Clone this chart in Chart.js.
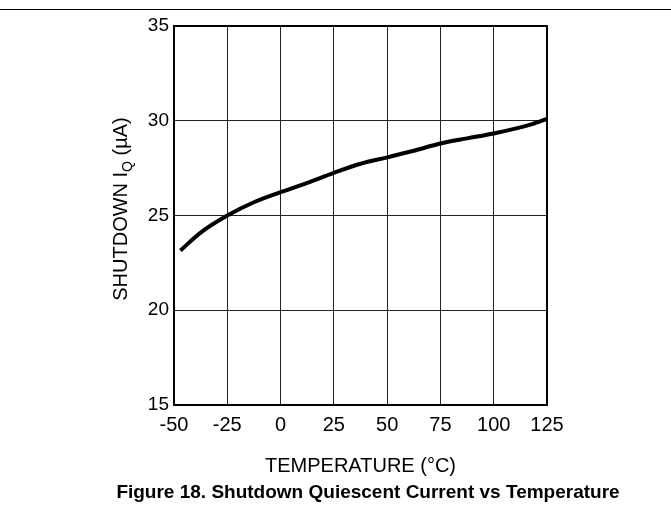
<!DOCTYPE html>
<html>
<head>
<meta charset="utf-8">
<script src="https://cdn.jsdelivr.net/npm/chart.js@4.4.0/dist/chart.umd.min.js"></script>
<style>
  html, body { margin: 0; padding: 0; background: #fff; }
  #wrap { position: relative; width: 671px; height: 512px; }
  #topline { position: absolute; left: 0; top: 9px; width: 671px; height: 0; border-top: 1.5px solid #000; }
  #caption { position: absolute; left: 0; width: 736px; top: 481px; text-align: center;
             font-family: "Liberation Sans", Arial, sans-serif; font-weight: bold; font-size: 19px; color: #000; }
  canvas { position: absolute; left: 0; top: 0; }
</style>
</head>
<body>
<div id="wrap">
  <canvas id="c" width="671" height="512"></canvas>
  <div id="topline"></div>
  <div id="caption">Figure 18. Shutdown Quiescent Current vs Temperature</div>
</div>
<script>
const temperatures = [-47, -37.5, -25, -12.5, 0, 12.5, 25, 37.5, 50, 62.5, 75, 87.5, 100, 112.5, 118, 125];
const iqValues     = [23.15, 24.1, 25.0, 25.7, 26.23, 26.72, 27.25, 27.73, 28.07, 28.42, 28.8, 29.07, 29.33, 29.65, 29.82, 30.1];
const xTicks = [-50, -25, 0, 25, 50, 75, 100, 125];
const yTicks = [15, 20, 25, 30, 35];
const xTitle = "TEMPERATURE (°C)";
const yTitleParts = ["SHUTDOWN I", "Q", " (µA)"];

const FONT = '"Liberation Sans", Arial, sans-serif';

const frame = {
  id: 'frame',
  afterDraw(chart) {
    const { ctx, chartArea: a } = chart;
    ctx.save();
    ctx.strokeStyle = '#000';
    ctx.lineWidth = 2;
    ctx.strokeRect(a.left, a.top, a.right - a.left, a.bottom - a.top);
    // y title with subscript
    ctx.translate(121, 209);
    ctx.rotate(-Math.PI / 2);
    ctx.fillStyle = '#000';
    ctx.textBaseline = 'middle';
    const big = '20px ' + FONT, small = '14px ' + FONT;
    ctx.font = big; const w1 = ctx.measureText(yTitleParts[0]).width;
    const w3 = ctx.measureText(yTitleParts[2]).width;
    ctx.font = small; const w2 = ctx.measureText(yTitleParts[1]).width;
    let x = -(w1 + w2 + w3) / 2;
    ctx.font = big; ctx.fillText(yTitleParts[0], x, 0); x += w1;
    ctx.font = small; ctx.fillText(yTitleParts[1], x, 7); x += w2;
    ctx.font = big; ctx.fillText(yTitleParts[2], x, 0);
    ctx.restore();
  }
};

new Chart(document.getElementById('c'), {
  type: 'scatter',
  data: {
    datasets: [{
      data: temperatures.map((t, i) => ({ x: t, y: iqValues[i] })),
      showLine: true,
      borderColor: '#000',
      borderWidth: 4,
      pointRadius: 0,
      cubicInterpolationMode: 'monotone',
      fill: false
    }]
  },
  options: {
    responsive: false,
    animation: false,
    layout: { padding: { left: 0, right: 124, top: 26, bottom: 34 } },
    plugins: { legend: { display: false }, tooltip: { enabled: false }, title: { display: false } },
    scales: {
      x: {
        type: 'linear', min: -50, max: 125,
        afterBuildTicks(s) { s.ticks = xTicks.map(v => ({ value: v })); },
        afterFit(s) { s.height = 512 - 34 - 405; },
        ticks: { color: '#000', font: { family: FONT, size: 20 }, padding: 8, maxRotation: 0 },
        grid: { color: '#222', lineWidth: 1, drawTicks: false },
        border: { display: false },
        title: { display: true, text: xTitle, color: '#000', font: { family: FONT, size: 20 }, padding: { top: 12, bottom: 0 } }
      },
      y: {
        type: 'linear', min: 15, max: 35,
        afterBuildTicks(s) { s.ticks = yTicks.map(v => ({ value: v })); },
        afterFit(s) { s.width = 174; },
        ticks: { color: '#000', font: { family: FONT, size: 19 }, padding: 5 },
        grid: { color: '#222', lineWidth: 1, drawTicks: false },
        border: { display: false }
      }
    }
  },
  plugins: [frame]
});
</script>
</body>
</html>
